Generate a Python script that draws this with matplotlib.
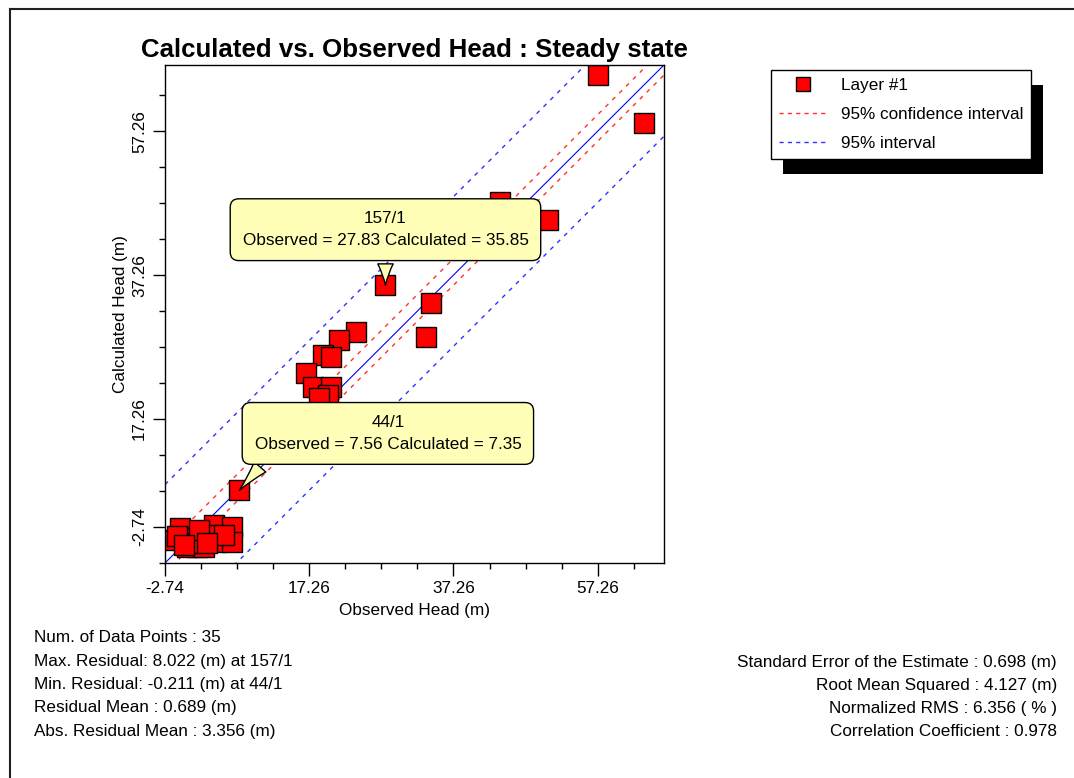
import numpy as np
import matplotlib
matplotlib.use("Agg")
import matplotlib.pyplot as plt
from matplotlib.lines import Line2D
from matplotlib.patches import Rectangle

plt.rcParams['font.family'] = ['Liberation Sans', 'DejaVu Sans']

# observed / calculated heads (m), layer #1
observed = [57.26, 63.65, 43.65, 50.30, 27.83, 34.20, 33.47, 23.75, 21.33, 19.11,
            20.27, 16.80, 17.72, 20.27, 19.80, 18.65, 7.56,
            -0.66, -1.77, 0.04, 1.29, 1.70, 0.32, 4.07, 6.57, 4.34,
            6.57, 2.68, 0.87, -1.07, 3.37, 1.98, -0.10, 5.45, 3.09]
calculated = [65.04, 58.37, 47.40, 44.90, 35.85, 33.41, 28.69, 29.38, 28.23, 26.15,
              25.91, 23.61, 21.75, 21.75, 20.59, 20.18, 7.35,
              2.12, 0.45, 0.73, 0.73, -0.52, -0.52, 2.54, 2.26, 0.18,
              0.18, -0.52, 0.04, 1.01, 1.15, 1.84, -0.24, 1.15, 0.04]

# band offsets around the 1:1 line
conf_offsets = [2.3, -1.4]
pred_offsets = [10.9, -9.9]

tick_vals = [-2.74, 17.26, 37.26, 57.26]
tick_labels = ['-2.74', '17.26', '37.26', '57.26']
lo, hi = -2.74, 66.45

stats_left = ["Num. of Data Points : 35",
              "Max. Residual: 8.022 (m) at 157/1",
              "Min. Residual: -0.211 (m) at 44/1",
              "Residual Mean : 0.689 (m)",
              "Abs. Residual Mean : 3.356 (m)"]
stats_right = ["Standard Error of the Estimate : 0.698 (m)",
               "Root Mean Squared : 4.127 (m)",
               "Normalized RMS : 6.356 ( % )",
               "Correlation Coefficient : 0.978"]

FS = 12.3
W, H = 1074, 778
fig = plt.figure(figsize=(W / 100, H / 100), dpi=100)
ax = fig.add_axes([165 / W, 1 - 563 / H, 499 / W, 498 / H])

xx = np.array([lo, hi])
ax.plot(xx, xx, color='#0000ff', lw=0.8, zorder=1)
for off in conf_offsets:
    ax.plot(xx, xx + off, color='#ff3030', lw=1, dashes=(3, 4), zorder=1)
for off in pred_offsets:
    ax.plot(xx, xx + off, color='#3030ff', lw=1, dashes=(3, 4), zorder=1)

ax.plot(observed, calculated, 's', color='#ff0000', mec='black', mew=1,
        ms=14, ls='none', zorder=2)

ax.set_xlim(lo, hi)
ax.set_ylim(lo, hi)

ax.set_xticks(tick_vals)
ax.set_xticklabels(tick_labels)
ax.set_xticks(np.arange(2.26, 65, 5), minor=True)
# the y labels sit one minor step higher than on x in the reference
ax.set_yticks([tick_vals[0] + 5] + tick_vals[1:])
ax.set_yticklabels(tick_labels, rotation=90, va='center')
ax.set_yticks([lo] + list(np.arange(7.26, 65, 5)), minor=True)
ax.tick_params(which='major', length=9, width=1, labelsize=FS, pad=4)
ax.tick_params(which='minor', length=4, width=1)
for s in ax.spines.values():
    s.set_linewidth(1)
    s.set_color('black')

ax.set_xlabel("Observed Head (m)", fontsize=FS, labelpad=5)
ax.set_ylabel("Calculated Head (m)", fontsize=FS, labelpad=3)
ax.set_title("Calculated vs. Observed Head : Steady state", fontsize=18.6,
             fontweight='bold', pad=6)

box = dict(boxstyle='round,pad=0.72,rounding_size=0.5', fc='#ffffb8', ec='black', lw=1)
ax.annotate("157/1\nObserved = 27.83 Calculated = 35.85",
            xy=(observed[4], calculated[4]), xytext=(0, 40),
            textcoords='offset points', ha='center', va='center',
            multialignment='center', fontsize=FS, linespacing=1.6, bbox=box,
            arrowprops=dict(arrowstyle='wedge,tail_width=0.9,shrink_factor=0.4',
                            fc='#ffffb8', ec='black', lw=1, shrinkB=0, relpos=(0.5, 0)),
            zorder=5)
ax.annotate("44/1\nObserved = 7.56 Calculated = 7.35",
            xy=(observed[16], calculated[16]), xytext=(107, 41),
            textcoords='offset points', ha='center', va='center',
            multialignment='center', fontsize=FS, linespacing=1.6, bbox=box,
            arrowprops=dict(arrowstyle='wedge,tail_width=0.9,shrink_factor=0.4',
                            fc='#ffffb8', ec='black', lw=1, shrinkB=0, relpos=(0.07, 0)),
            zorder=5)

handles = [Line2D([], [], marker='s', color='#ff0000', mec='black', mew=1, ms=10, ls='none'),
           Line2D([], [], color='#ff3030', lw=1, dashes=(3, 3)),
           Line2D([], [], color='#3030ff', lw=1, dashes=(3, 3))]
leg = fig.legend(handles, ["Layer #1", "95% confidence interval", "95% interval"],
                 loc='upper left', bbox_to_anchor=(771 / W, 1 - 70 / H),
                 fontsize=FS, frameon=True, fancybox=False, framealpha=1,
                 borderpad=0.45, labelspacing=0.84, handlelength=2.8,
                 handletextpad=0.85, borderaxespad=0)
leg.get_frame().set_edgecolor('black')
leg.get_frame().set_linewidth(1)
leg.set_zorder(5)

fig.canvas.draw()
bb = leg.get_window_extent()
fig.patches.append(Rectangle((bb.x0 + 12, bb.y0 - 15), bb.width, bb.height,
                             transform=None, fc='black', ec='none', zorder=1))

# outer frame of the window
fig.add_artist(Line2D([10 / W, 10 / W], [0, 1 - 9 / H], color='#202020', lw=1.5))
fig.add_artist(Line2D([10 / W, 1], [1 - 9 / H, 1 - 9 / H], color='#202020', lw=1.5))

for i, s in enumerate(stats_left):
    fig.text(34 / W, 1 - (638 + 23.3 * i) / H, s, fontsize=FS, va='center', ha='left')
for i, s in enumerate(stats_right):
    fig.text(1057 / W, 1 - (662 + 23.3 * i) / H, s, fontsize=FS, va='center', ha='right')

fig.savefig("out.png", dpi=100)
